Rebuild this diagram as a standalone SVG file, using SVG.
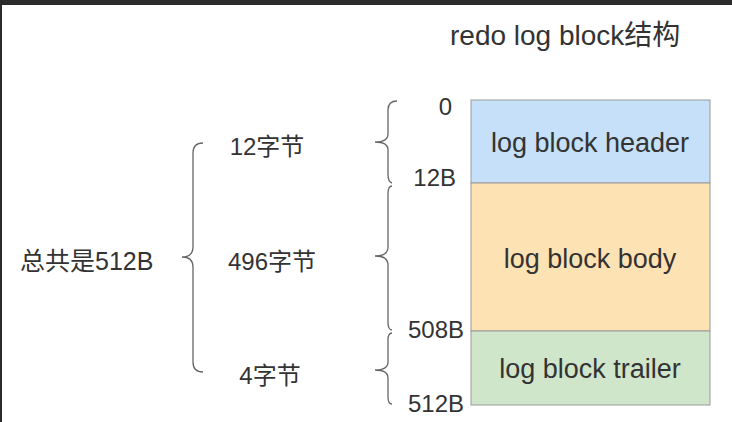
<svg xmlns="http://www.w3.org/2000/svg" width="732" height="422" viewBox="0 0 732 422">
<style>
text{font-family:"Liberation Sans","Noto Sans CJK SC",sans-serif;fill:#333;}
.t{font-size:25px}
.b{font-size:27px;text-anchor:middle}
.n{font-size:24px;text-anchor:end}
.c{font-size:24px;text-anchor:middle}
.br{fill:none;stroke:#666;stroke-width:1.3}
.box{stroke:#999;stroke-width:1}
</style>
<rect width="732" height="422" fill="#fff"/>
<rect width="732" height="5" fill="#2b2b2b"/>
<rect width="2" height="422" fill="#2b2b2b"/>
<text x="450" y="45" style="font-size:28px">redo log block结构</text>
<g id="header"><rect class="box" x="471" y="100" width="239" height="83" fill="#c5e0f8"/><text class="b" x="590" y="152">log block header</text></g>
<g id="body"><rect class="box" x="471" y="183" width="239" height="148" fill="#fde2b4"/><text class="b" x="590" y="268">log block body</text></g>
<g id="trailer"><rect class="box" x="471" y="331" width="239" height="74" fill="#cfe6cb"/><text class="b" x="590" y="378">log block trailer</text></g>
<g id="connectors">
<path class="br" d="M397,101 Q388,101 388,110 L388,134 Q388,142 375,142 Q388,142 388,150 L388,174 Q388,182 392,183"/>
<path class="br" d="M392,186 Q388,186 388,194 L388,247 Q388,256 375,256 Q388,256 388,265 L388,322 Q388,330 392,330"/>
<path class="br" d="M392,333 Q388,333 388,340 L388,362 Q388,370 375,370 Q388,370 388,378 L388,397 Q388,404 392,404"/>
<path class="br" d="M203,143 Q193,143 193,153 L193,247 Q193,257 182,257 Q193,257 193,267 L193,362 Q193,372 203,372"/>
</g>
<g id="labels">
<text class="t" x="20" y="270">总共是512B</text>
<text class="c" x="267" y="155">12字节</text>
<text class="c" x="272" y="270">496字节</text>
<text class="c" x="270" y="384">4字节</text>
<text class="n" x="452" y="115">0</text>
<text class="n" x="456" y="186">12B</text>
<text class="n" x="464" y="338">508B</text>
<text class="n" x="464" y="412">512B</text>
</g>
</svg>
